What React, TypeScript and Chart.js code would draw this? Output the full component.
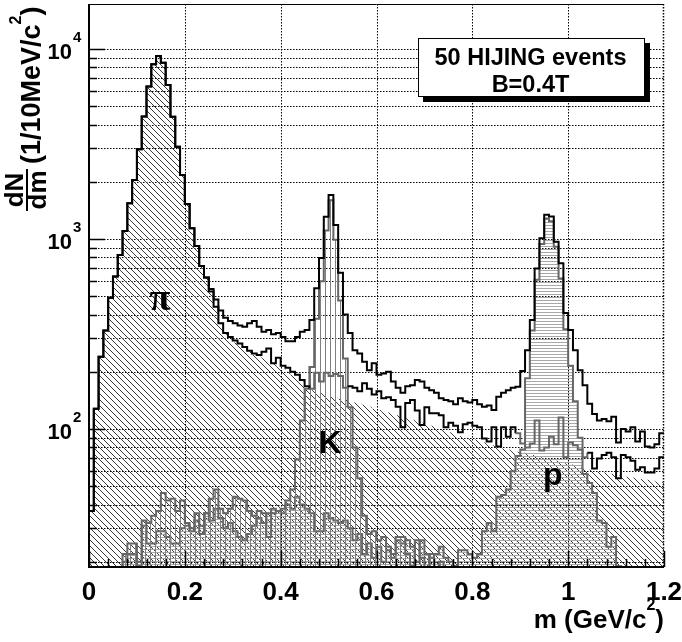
import React, { useEffect, useRef } from "react";
import { Chart, registerables } from "chart.js";

Chart.register(...registerables);

// ---------- axis ranges / ticks ----------
const BIN_WIDTH = 0.01;
const X_MIN = 0;
const X_MAX = 1.2;
const Y_MIN = 18.78;
const Y_MAX = 17250;

const xMajorTicks = [0, 0.2, 0.4, 0.6, 0.8, 1.0, 1.2];
const xTickLabels = ["0", "0.2", "0.4", "0.6", "0.8", "1", "1.2"];
const xMinorStep = 0.04;
const yDecadeExponents = [2, 3, 4];
const yMinorMultipliers = [1, 2, 3, 4, 5, 6, 7, 8, 9];

// ---------- histogram contents (counts per 10 MeV bin, 0 .. 1.2 GeV) ----------
const totalCounts = [
  37, 128, 240, 330, 491, 634, 824, 1102, 1542, 2046,
  2965, 4408, 6340, 8300, 9190, 8470, 6470, 4400, 3060, 2175,
  1528, 1138, 919, 721, 628, 545, 480, 420, 385, 370,
  360, 350, 345, 360, 370, 345, 325, 332, 315, 320,
  305, 290, 290, 305, 325, 332, 375, 550, 795, 1310,
  1706, 1186, 665, 400, 320, 260, 250, 226, 204, 222,
  193, 196, 200, 178, 165, 155, 168, 170, 181, 178,
  165, 160, 155, 145, 142, 140, 135, 145, 140, 138,
  142, 135, 131, 133, 126, 148, 155, 160, 165, 167,
  202, 260, 375, 700, 1010, 1340, 1315, 967, 746, 408,
  332, 260, 204, 170, 136, 120, 111, 113, 110, 116,
  85, 100, 97, 102, 86, 97, 81, 80, 83, 95,
];

const cutCounts = [
  37, 128, 240, 330, 491, 634, 824, 1102, 1542, 2046,
  2965, 4408, 6340, 8300, 9190, 8470, 6470, 4400, 3060, 2175,
  1528, 1138, 919, 721, 628, 530, 440, 360, 320, 305,
  292, 282, 270, 258, 250, 245, 255, 265, 222, 237,
  215, 210, 200, 193, 181, 168, 163, 198, 178, 198,
  190, 195, 190, 165, 168, 165, 158, 174, 163, 152,
  158, 145, 147, 142, 131, 102, 137, 142, 125, 105,
  130, 121, 121, 118, 102, 108, 104, 96, 106, 108,
  104, 102, 89, 86, 102, 81, 102, 91, 102, 95,
  84, 80, 84, 111, 77, 80, 91, 83, 115, 71,
  85, 82, 78, 71, 75, 62, 70, 73, 75, 71,
  55, 73, 71, 68, 61, 63, 59, 59, 62, 71,
];

const pionCounts = [
  37, 128, 240, 330, 491, 634, 824, 1102, 1542, 2046,
  2965, 4408, 6340, 8300, 9190, 8470, 6470, 4400, 3060, 2175,
  1528, 1138, 919, 721, 628, 520, 430, 355, 315, 296,
  285, 275, 265, 255, 246, 240, 236, 230, 220, 214,
  207, 200, 193, 186, 178, 166, 160, 157, 154, 151,
  148, 146, 144, 142, 140, 138, 136, 134, 131, 128,
  126, 124, 122, 120, 118, 116, 114, 112, 110, 108,
  106, 104, 102, 100, 98, 96, 94, 92, 90, 89,
  88, 87, 85, 83, 82, 80, 79, 78, 77, 76,
  75, 74, 73, 72, 71, 70, 69, 68, 67, 66,
  65, 64, 63, 62, 61, 60, 59.5, 59, 58.5, 58,
  57, 56.5, 56, 55.5, 55, 54.5, 54, 53.5, 53, 52.5,
];

const kaonCounts = [
  0, 0, 0, 0, 0, 0, 0, 22, 25, 25,
  19, 33, 32, 35, 37, 46, 42, 43, 37, 42,
  32, 30, 36, 28, 36, 43, 48, 38, 36, 38,
  44, 43, 42, 37, 35, 37, 36, 27, 36, 37,
  38, 42, 48, 69, 111, 163, 212, 380, 600, 1110,
  1600, 990, 475, 235, 130, 80, 55, 35, 28, 29,
  26, 27, 24, 22, 27, 27, 22, 19, 26, 21,
  0, 22, 0, 20, 0, 0, 0, 0, 0, 0,
  0, 0, 0, 0, 0, 0, 0, 0, 0, 0,
  0, 0, 0, 0, 0, 0, 0, 0, 0, 0,
  0, 0, 0, 0, 0, 0, 0, 0, 0, 0,
  0, 0, 0, 0, 0, 0, 0, 0, 0, 0,
];

const protonCounts = [
  0, 0, 0, 0, 0, 0, 0, 20, 22, 22,
  20, 31, 25, 25, 29, 29, 27, 25, 25, 30,
  31, 29, 33, 31, 36, 33, 38, 34, 30, 32,
  29, 27, 26, 28, 31, 34, 32, 36, 38, 37,
  36, 40, 38, 44, 40, 38, 36, 29, 29, 36,
  34, 33, 32, 33, 30, 26, 28, 22, 25, 21,
  24, 20, 23, 21, 26, 25, 26, 24, 20, 26,
  22, 21, 22, 24, 21, 20, 19, 23, 23, 22,
  21, 22, 29, 32, 29, 44, 45, 48, 60, 72,
  78, 185, 330, 610, 940, 1280, 1240, 910, 620, 335,
  215, 140, 90, 58, 52, 46, 33, 32, 24, 27,
  19, 0, 0, 0, 0, 0, 0, 0, 0, 0,
];

// mass ranges where the "cut" histogram outline is drawn in grey
const grayRanges = [
  [0.46, 0.54],
  [0.89, 1.04],
];

// text labels placed in data coordinates
const peakLabels = [
  { text: "π", x: 0.148, y: 423, serif: true },
  { text: "K", x: 0.503, y: 74.8, serif: false },
  { text: "p", x: 0.968, y: 50.7, serif: false },
];
const legendLines = ["50 HIJING events", "B=0.4T"];

const FONT = '"Liberation Sans", Arial, Helvetica, sans-serif';
const SERIF = '"Liberation Serif", "DejaVu Serif", serif';
const GRAY = "#666666";

function toPoints(counts: number[]) {
  const pts = counts.map((c, i) => ({ x: X_MIN + i * BIN_WIDTH, y: c > 0 ? c : 1 }));
  const last = counts[counts.length - 1];
  pts.push({ x: X_MIN + counts.length * BIN_WIDTH, y: last > 0 ? last : 1 });
  return pts;
}

function makePattern(kind: "diag" | "vert" | "horz", color: string, size: number, lw: number) {
  const c = document.createElement("canvas");
  c.width = size;
  c.height = size;
  const g = c.getContext("2d")!;
  g.strokeStyle = color;
  g.lineWidth = lw;
  g.beginPath();
  if (kind === "diag") {
    g.moveTo(-1, -1);
    g.lineTo(size + 1, size + 1);
    g.moveTo(size - 1, -1);
    g.lineTo(size + 1, 1);
    g.moveTo(-1, size - 1);
    g.lineTo(1, size + 1);
  } else if (kind === "vert") {
    g.moveTo(0.5, 0);
    g.lineTo(0.5, size);
  } else {
    g.moveTo(0, 0.5);
    g.lineTo(size, 0.5);
  }
  g.stroke();
  return g.createPattern(c, "repeat")!;
}

const yTickValues: { v: number; major: boolean }[] = [];
for (let e = 1; e <= 4; e++) {
  for (const m of yMinorMultipliers) {
    const v = m * Math.pow(10, e);
    if (v >= Y_MIN && v <= Y_MAX) yTickValues.push({ v, major: m === 1 });
  }
}

const rootStylePlugin = {
  id: "rootStyle",
  beforeDraw(chart: any) {
    const ctx = chart.ctx;
    ctx.save();
    ctx.fillStyle = "#ffffff";
    ctx.fillRect(0, 0, chart.width, chart.height);
    ctx.restore();
  },
  beforeDatasetsDraw(chart: any) {
    const { ctx, chartArea: a, scales } = chart;
    const xs = scales.x;
    const ys = scales.y;
    ctx.save();
    ctx.strokeStyle = "#000000";
    ctx.lineWidth = 1;
    ctx.setLineDash([1.5, 1.5]);
    for (const t of xMajorTicks) {
      if (t <= X_MIN || t >= X_MAX) continue;
      const px = Math.round(xs.getPixelForValue(t)) + 0.5;
      ctx.beginPath();
      ctx.moveTo(px, a.top);
      ctx.lineTo(px, a.bottom);
      ctx.stroke();
    }
    for (const t of yTickValues) {
      const py = Math.round(ys.getPixelForValue(t.v)) + 0.5;
      ctx.beginPath();
      ctx.moveTo(a.left, py);
      ctx.lineTo(a.right, py);
      ctx.stroke();
    }
    ctx.restore();
  },
  afterDraw(chart: any) {
    const { ctx, chartArea: a, scales } = chart;
    const xs = scales.x;
    const ys = scales.y;
    ctx.save();

    // frame
    ctx.strokeStyle = "#000";
    ctx.setLineDash([]);
    ctx.lineWidth = 1;
    ctx.beginPath();
    ctx.moveTo(a.left, a.top + 0.5);
    ctx.lineTo(a.right, a.top + 0.5);
    ctx.stroke();
    ctx.lineWidth = 2;
    ctx.beginPath();
    ctx.moveTo(a.left, a.top);
    ctx.lineTo(a.left, a.bottom);
    ctx.lineTo(a.right, a.bottom);
    ctx.stroke();
    ctx.lineWidth = 1.5;
    ctx.setLineDash([1.5, 1.5]);
    ctx.beginPath();
    ctx.moveTo(a.right - 0.5, a.top);
    ctx.lineTo(a.right - 0.5, a.bottom);
    ctx.stroke();
    ctx.setLineDash([]);

    // y ticks
    ctx.lineWidth = 1.5;
    for (const t of yTickValues) {
      const py = Math.round(ys.getPixelForValue(t.v)) + 0.5;
      ctx.beginPath();
      ctx.moveTo(a.left, py);
      ctx.lineTo(a.left + (t.major ? 16 : 8), py);
      ctx.stroke();
    }
    // x ticks
    for (let k = 0; k * xMinorStep <= X_MAX + 1e-9; k++) {
      const v = k * xMinorStep;
      const major = xMajorTicks.some((m) => Math.abs(m - v) < 1e-6);
      const px = Math.round(xs.getPixelForValue(v)) + 0.5;
      ctx.beginPath();
      ctx.moveTo(px, a.bottom);
      ctx.lineTo(px, a.bottom - (major ? 16 : 8));
      ctx.stroke();
    }

    ctx.fillStyle = "#000";
    // x tick labels
    ctx.font = `bold 26px ${FONT}`;
    ctx.textAlign = "center";
    ctx.textBaseline = "alphabetic";
    xMajorTicks.forEach((t, i) => {
      ctx.fillText(xTickLabels[i], xs.getPixelForValue(t), 600);
    });
    // y tick labels 10^n
    for (const e of yDecadeExponents) {
      const py = ys.getPixelForValue(Math.pow(10, e));
      ctx.font = `bold 22px ${FONT}`;
      ctx.textAlign = "right";
      ctx.fillText("10", 72, py + 10);
      ctx.font = `bold 15px ${FONT}`;
      ctx.textAlign = "left";
      ctx.fillText(String(e), 73, py - 6.5);
    }

    // x title: m (GeV/c^2)
    {
      const big = `bold 26px ${FONT}`;
      const small = `bold 16px ${FONT}`;
      ctx.font = big;
      const w1 = ctx.measureText("m (GeV/c").width;
      const w3 = ctx.measureText(")").width;
      ctx.font = small;
      const w2 = ctx.measureText("2").width;
      const right = 664;
      const x0 = right - w3 - w2 - w1;
      ctx.textAlign = "left";
      ctx.font = big;
      ctx.fillText("m (GeV/c", x0, 628);
      ctx.font = small;
      ctx.fillText("2", x0 + w1, 610);
      ctx.font = big;
      ctx.fillText(")", x0 + w1 + w2, 628);
    }

    // y title (rotated): dN/dm (1/10MeV/c^2)
    {
      ctx.save();
      ctx.rotate(-Math.PI / 2);
      // point (px,py) -> screen (py, -px)
      const big = `bold 26px ${FONT}`;
      const big2 = `bold 27px ${FONT}`;
      const small = `bold 16px ${FONT}`;
      ctx.font = big;
      ctx.textAlign = "center";
      ctx.fillText("dN", -190, 23);
      ctx.fillText("dm", -190, 46);
      ctx.lineWidth = 2;
      ctx.beginPath();
      ctx.moveTo(-211, 27);
      ctx.lineTo(-169, 27);
      ctx.stroke();
      ctx.textAlign = "left";
      const s = -164;
      ctx.font = big2;
      ctx.fillText("(1/10MeV/c", s, 40);
      const w1 = ctx.measureText("(1/10MeV/c").width;
      ctx.font = small;
      ctx.fillText("2", s + w1, 21);
      const w2 = ctx.measureText("2").width;
      ctx.font = big2;
      ctx.fillText(")", s + w1 + w2, 40);
      ctx.restore();
    }

    // peak labels
    ctx.textAlign = "center";
    for (const l of peakLabels) {
      ctx.font = l.serif ? `bold 38px ${SERIF}` : `bold 32px ${FONT}`;
      ctx.fillText(l.text, xs.getPixelForValue(l.x), ys.getPixelForValue(l.y));
    }

    // legend box with shadow
    {
      const bx = 418, by = 38, bw = 227, bh = 59;
      ctx.fillStyle = "#000";
      ctx.fillRect(bx + 5, by + 5, bw, bh);
      ctx.fillStyle = "#fff";
      ctx.fillRect(bx, by, bw, bh);
      ctx.strokeStyle = "#000";
      ctx.lineWidth = 1;
      ctx.strokeRect(bx + 0.5, by + 0.5, bw - 1, bh - 1);
      ctx.fillStyle = "#000";
      ctx.font = `bold 23.5px ${FONT}`;
      ctx.textAlign = "center";
      ctx.fillText(legendLines[0], bx + bw / 2 - 1, 65);
      ctx.fillText(legendLines[1], bx + bw / 2 - 1, 92);
    }

    ctx.restore();
  },
};

export default function App() {
  const ref = useRef<HTMLCanvasElement>(null);
  useEffect(() => {
    document.body.style.margin = "0";
    const canvas = ref.current!;
    const diag = makePattern("diag", "#3a3a3a", 6, 1);
    const vert = makePattern("vert", "#808080", 5, 1);
    const horz = makePattern("horz", "#a8a8a8", 3, 1);
    const inGray = (x: number) => grayRanges.some(([a, b]) => x >= a - 1e-9 && x < b - 1e-9);

    const chart = new Chart(canvas, {
      type: "line",
      data: {
        datasets: [
          {
            label: "all",
            data: toPoints(totalCounts),
            stepped: "before",
            borderColor: "#000",
            borderWidth: 2,
            fill: false,
            pointRadius: 0,
          },
          {
            label: "cut",
            data: toPoints(cutCounts),
            stepped: "before",
            borderColor: "#000",
            borderWidth: 2,
            fill: false,
            pointRadius: 0,
            segment: {
              borderColor: (c: any) => (inGray(c.p0.parsed.x) ? GRAY : "#000"),
            },
          },
          {
            label: "K",
            data: toPoints(kaonCounts),
            stepped: "before",
            borderColor: GRAY,
            borderWidth: 2,
            backgroundColor: vert,
            fill: "start",
            pointRadius: 0,
          },
          {
            label: "p",
            data: toPoints(protonCounts),
            stepped: "before",
            borderColor: GRAY,
            borderWidth: 2,
            backgroundColor: horz,
            fill: "start",
            pointRadius: 0,
          },
          {
            label: "pi",
            data: toPoints(pionCounts),
            stepped: "before",
            borderColor: "rgba(0,0,0,0)",
            borderWidth: 0,
            backgroundColor: diag,
            fill: "start",
            pointRadius: 0,
          },
        ] as any,
      },
      options: {
        responsive: false,
        animation: false,
        events: [],
        layout: { padding: { left: 89, right: 18, top: 4, bottom: 75 } },
        plugins: { legend: { display: false }, tooltip: { enabled: false } },
        scales: {
          x: { type: "linear", min: X_MIN, max: X_MAX, display: false },
          y: { type: "logarithmic", min: Y_MIN, max: Y_MAX, display: false },
        },
      },
      plugins: [rootStylePlugin],
    } as any);
    return () => chart.destroy();
  }, []);
  return (
    <div style={{ position: "absolute", left: 0, top: 0, width: 682, height: 642 }}>
      <canvas ref={ref} width={682} height={642} style={{ width: 682, height: 642, display: "block" }} />
    </div>
  );
}
